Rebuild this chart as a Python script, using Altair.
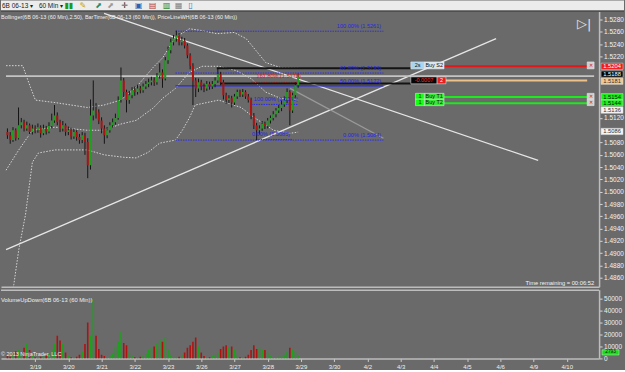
import altair as alt
import pandas as pd

BG = "#6a6a6a"
FONT = "Liberation Sans"

# ---------------- data ----------------
first_open = 1.5097
closes = [1.5092,1.5084,1.5100,1.5087,1.5108,1.5113,1.5103,1.5108,1.5097,1.5103,
1.5100,1.5105,1.5095,1.5103,1.5098,1.5107,1.5116,1.5124,1.5113,1.5103,
1.5108,1.5097,1.5100,1.5090,1.5097,1.5089,1.5084,1.5092,1.5081,1.5043,
1.5124,1.5132,1.5129,1.5116,1.5103,1.5092,1.5100,1.5108,1.5113,1.5120,
1.5149,1.5181,1.5162,1.5149,1.5157,1.5165,1.5162,1.5168,1.5165,1.5171,
1.5175,1.5178,1.5181,1.5178,1.5188,1.5194,1.5184,1.5214,1.5230,1.5243,
1.5249,1.5254,1.5243,1.5246,1.5238,1.5222,1.5205,1.5181,1.5168,1.5178,
1.5171,1.5168,1.5175,1.5171,1.5175,1.5181,1.5191,1.5178,1.5157,1.5149,
1.5152,1.5145,1.5155,1.5162,1.5158,1.5162,1.5155,1.5149,1.5124,1.5108,
1.5100,1.5103,1.5110,1.5107,1.5116,1.5120,1.5126,1.5132,1.5136,1.5142,
1.5149,1.5162,1.5132,1.5157,1.5173,1.5188]
highs = [1.5103,1.5097,1.5105,1.5103,1.5137,1.5120,1.5117,1.5114,1.5111,1.5109,
1.5108,1.5111,1.5108,1.5109,1.5107,1.5113,1.5127,1.5141,1.5129,1.5117,
1.5115,1.5111,1.5106,1.5104,1.5102,1.5100,1.5094,1.5097,1.5096,1.5087,
1.5150,1.5181,1.5144,1.5134,1.5121,1.5108,1.5105,1.5113,1.5119,1.5127,
1.5155,1.5202,1.5185,1.5166,1.5164,1.5170,1.5171,1.5174,1.5172,1.5176,
1.5180,1.5184,1.5187,1.5186,1.5193,1.5209,1.5199,1.5219,1.5236,1.5249,
1.5255,1.5262,1.5258,1.5252,1.5250,1.5241,1.5225,1.5209,1.5185,1.5184,
1.5182,1.5176,1.5180,1.5179,1.5180,1.5186,1.5201,1.5195,1.5182,1.5161,
1.5157,1.5156,1.5159,1.5166,1.5166,1.5167,1.5165,1.5159,1.5153,1.5128,
1.5112,1.5108,1.5115,1.5114,1.5120,1.5124,1.5131,1.5136,1.5141,1.5148,
1.5155,1.5168,1.5165,1.5161,1.5178,1.5192]
lows = [1.5086,1.5078,1.5081,1.5083,1.5085,1.5103,1.5098,1.5099,1.5093,1.5093,
1.5095,1.5096,1.5088,1.5092,1.5093,1.5095,1.5103,1.5112,1.5108,1.5097,
1.5098,1.5091,1.5092,1.5085,1.5086,1.5083,1.5078,1.5079,1.5060,1.5022,
1.5036,1.5116,1.5119,1.5110,1.5095,1.5078,1.5087,1.5096,1.5104,1.5109,
1.5117,1.5145,1.5154,1.5129,1.5143,1.5152,1.5156,1.5158,1.5160,1.5161,
1.5167,1.5170,1.5173,1.5172,1.5174,1.5184,1.5169,1.5181,1.5208,1.5225,
1.5238,1.5244,1.5238,1.5238,1.5233,1.5217,1.5199,1.5141,1.5154,1.5162,
1.5165,1.5162,1.5164,1.5166,1.5167,1.5170,1.5177,1.5173,1.5150,1.5143,
1.5144,1.5137,1.5141,1.5151,1.5154,1.5154,1.5151,1.5145,1.5118,1.5102,
1.5084,1.5093,1.5099,1.5102,1.5103,1.5111,1.5116,1.5121,1.5128,1.5131,
1.5138,1.5144,1.5108,1.5128,1.5153,1.5169]
volumes = [2000,1500,3000,6000,8000,4000,9000,12000,7000,2000,
1000,1000,1500,2000,3000,4000,8000,12000,19000,15000,
12000,5000,2000,1000,1000,1500,3000,6000,12000,30000,
19000,50000,19000,8000,3000,2000,1000,2000,4000,10000,
14000,22000,13000,11000,5000,2000,1000,1000,1500,2000,
4000,7000,9000,10000,12000,16000,14000,18000,8000,3000,
1500,1000,1500,3000,5000,9000,11000,14000,17500,10000,
5000,2000,1000,1000,2000,3000,5000,8000,10000,11000,
9000,10000,7000,3000,1000,1000,1500,3000,7000,11000,
8000,9000,8000,7000,5000,2000,1000,1000,1500,2000,
3000,6000,9000,8000,6000,2793]

# Bollinger bands (bar index, price)
upper_i = [-0.5,5.5,8.3,10.1,17.2,28.8,34.9,40.9,46.5,52.6,56.1,60.7,65.7,70.3,75.6,81.9,86.2,89.7,93.3,98.6,105]
upper_p = [1.5205,1.5205,1.5170,1.5149,1.5145,1.5137,1.5141,1.5149,1.5170,1.5202,1.5218,1.5251,1.5265,1.5262,1.5257,1.5259,1.5249,1.5230,1.5210,1.5202,1.5201]
mid_i = [-0.5,4.1,9.0,17.2,28.8,34.9,40.9,46.5,52.6,56.1,60.7,65.7,70.3,76.3,82.7,88.0,93.3,98.6,105]
mid_p = [1.5035,1.5068,1.5100,1.5105,1.5100,1.5100,1.5110,1.5116,1.5136,1.5152,1.5168,1.5194,1.5204,1.5204,1.5197,1.5184,1.5162,1.5152,1.5149]
lower_i = [1.2,2.3,4.1,6.5,9.0,11.2,17.2,28.8,34.9,42.0,46.5,50.8,55.0,60.7,63.2,65.7,67.8,76.3,84.4,89.0,96.1,102.1,105]
lower_p = [1.4824,1.4849,1.4906,1.4962,1.5048,1.5063,1.5068,1.5068,1.5060,1.5056,1.5055,1.5064,1.5079,1.5084,1.5100,1.5120,1.5141,1.5149,1.5137,1.5121,1.5100,1.5095,1.5097]

# drawn trend lines
trend_i1 = [34.9, -0.5, 102.1]
trend_p1 = [1.5290, 1.4906, 1.5168]
trend_i2 = [191.7, 176.5, 135.8]
trend_p2 = [1.5051, 1.5249, 1.5087]
trend_col = ["#e6e6e6", "#e6e6e6", "#9a9a9a"]

# fibonacci levels
fib_levels = [1.5261, 1.5193, 1.5172, 1.5084]
fib_text = ["100.00% (1.5261)", "61.80% (1.5193)", "50.00% (1.5172)", "0.00% (1.5084)"]
small_fib_levels = [1.5142, 1.5085]
small_fib_text = ["100.00% (1.5142)", "0.00% (1.5085)"]
ext_level = 1.5178
ext_text = "161.80% (1.5178)"

day_labels = ["3/19","3/20","3/21","3/22","3/23","3/26","3/27","3/28","3/29",
              "3/30","4/2","4/3","4/4","4/5","4/6","4/9","4/10"]
day_pos = [10,22,34,46,58,70,82,94,106,118,130,142,154,166,178,190,202]

price_ticks = [1.528,1.526,1.524,1.522,1.512,1.508,1.506,1.504,1.502,1.500,
               1.498,1.496,1.494,1.492,1.490,1.488,1.486]
vol_ticks = [0,10000,20000,30000,40000,50000]

last_price = 1.5188
position_price = 1.5181
stop_price = 1.5204
target_prices = [1.5154, 1.5144]

# ---------------- frames ----------------
opens = [first_open] + closes[:-1]
bars = pd.DataFrame({
    "i": list(range(len(closes))), "open": opens, "close": closes,
    "high": highs, "low": lows, "vol": volumes,
})
bars["dir"] = ["up" if c >= o else "down" for o, c in zip(opens, closes)]

XS = alt.Scale(domain=[-0.53, 211.9], nice=False, zero=False)
YS = alt.Scale(domain=[1.48456, 1.52930], nice=False, zero=False)
VS = alt.Scale(domain=[0, 57500], nice=False, zero=False)

XAX = alt.Axis(labels=False, ticks=False, domain=True, domainColor="#bdbdbd",
               domainWidth=1.5, grid=False, title=None)
YAX = alt.Axis(orient="right", values=price_ticks, format=".4f", grid=False, title=None,
               labelFont=FONT, labelFontSize=6.5, labelColor="#f2f2f2", tickColor="#d8d8d8",
               tickSize=3, domainColor="#bdbdbd", domainWidth=1.5, labelPadding=1.5,
               labelOverlap=False)

def XQ(f):
    return alt.X(f, type="quantitative", scale=XS, axis=XAX)

def YQ(f):
    return alt.Y(f, type="quantitative", scale=YS, axis=YAX)

one = pd.DataFrame({"a": [0]})

# ---- bands ----
band_df = pd.concat([
    pd.DataFrame({"i": upper_i, "p": upper_p, "b": "u"}),
    pd.DataFrame({"i": mid_i, "p": mid_p, "b": "m"}),
    pd.DataFrame({"i": lower_i, "p": lower_p, "b": "l"}),
])
bands = alt.Chart(band_df).mark_line(color="#d6d6d6", strokeWidth=1, strokeDash=[1.5, 1.5],
                                     clip=True).encode(
    x=XQ("i"), y=YQ("p"), detail="b:N")

trend_df = pd.DataFrame({"i1": trend_i1, "p1": trend_p1, "i2": trend_i2, "p2": trend_p2,
                         "c": trend_col})
trends = alt.Chart(trend_df).mark_rule(strokeWidth=1.3, clip=True).encode(
    x=XQ("i1"), y=YQ("p1"), x2="i2", y2="p2", color=alt.Color("c:N", scale=None))

# ---- horizontal lines ----
dotted_df = pd.DataFrame({
    "i1": [60.7, 60.7, 60.7, 88.0, 89.7, 88.0],
    "i2": [135.8, 135.8, 135.8, 105.0, 102.8, 105.0],
    "p": [fib_levels[0], fib_levels[1], fib_levels[3], small_fib_levels[0], small_fib_levels[1], ext_level],
    "c": ["#2c2cf0", "#2c2cf0", "#2c2cf0", "#2c2cf0", "#2c2cf0", "#d82020"],
})
dotted = alt.Chart(dotted_df).mark_rule(strokeWidth=1, strokeDash=[1.5, 1], clip=True).encode(
    x=XQ("i1"), x2="i2", y=YQ("p"), color=alt.Color("c:N", scale=None))

solid_df = pd.DataFrame({
    "i1": [60.7, -0.53, 75.6, 77.0, 157.7, 158.4, 157.7, 157.7],
    "i2": [135.8, 211.9, 145.7, 145.7, 209.4, 209.4, 209.4, 209.4],
    "p": [fib_levels[2], last_price, 1.5201, 1.5176, stop_price, position_price,
          target_prices[0], target_prices[1]],
    "c": ["#2a2ae8", "#c4c4c4", "#141414", "#141414", "#e01818", "#eec08a", "#1ee81e", "#1ee81e"],
    "w": [1.2, 2, 2, 2, 2, 2, 2, 2],
})
solid = alt.Chart(solid_df).mark_rule(clip=True).encode(
    x=XQ("i1"), x2="i2", y=YQ("p"), color=alt.Color("c:N", scale=None),
    strokeWidth=alt.StrokeWidth("w:Q", scale=None))

# ---- candles ----
wicks = alt.Chart(bars).mark_rule(color="#151515", strokeWidth=1, clip=True).encode(
    x=XQ("i"), y=YQ("low"), y2="high")
bodies = alt.Chart(bars).mark_bar(size=2, clip=True).encode(
    x=XQ("i"), y=YQ("open"), y2="close",
    color=alt.Color("dir:N", scale=alt.Scale(domain=["up", "down"], range=["#1f9f1f", "#b01212"]),
                    legend=None))

# ---- fib labels ----
fib_lab_df = pd.DataFrame({
    "i": [135.0, 135.0, 135.0, 135.0, 105.0, 102.1, 106.0],
    "p": [fib_levels[0] + 0.0003, fib_levels[1] + 0.0003, fib_levels[2] + 0.0003,
          fib_levels[3] + 0.0003, small_fib_levels[0] + 0.0004, small_fib_levels[1] + 0.0004,
          ext_level + 0.0006],
    "t": fib_text + small_fib_text + [ext_text],
    "c": ["#2626e6"] * 6 + ["#e02020"],
})
fib_labels = alt.Chart(fib_lab_df).mark_text(align="right", baseline="bottom", font=FONT,
                                             fontSize=5.6).encode(
    x=XQ("i"), y=YQ("p"), text="t:N", color=alt.Color("c:N", scale=None))

# ---- order boxes on chart ----
box_df = pd.DataFrame({
    "i1": [145.7, 150.6, 145.7, 155.2, 147.4, 150.6, 147.4, 150.6, 209.4, 209.4, 209.4],
    "i2": [150.6, 157.7, 155.2, 158.4, 150.6, 157.7, 150.6, 157.7, 211.9, 211.9, 211.9],
    "p1": [1.52111, 1.52111, 1.51868, 1.51868, 1.51600, 1.51600, 1.51503, 1.51503,
           1.52111, 1.51600, 1.51503],
    "p2": [1.51998, 1.51998, 1.51755, 1.51755, 1.51503, 1.51503, 1.51400, 1.51400,
           1.51998, 1.51503, 1.51400],
    "f": ["#a8d4f0", "#d9e6ee", "#050505", "#e42020", "#14ff14", "#3ae83a", "#14ff14", "#3ae83a",
          "#cfcfcf", "#cfcfcf", "#cfcfcf"],
    "t": ["2s", "Buy S2", "-0.0007", "2", "1", "Buy T1", "1", "Buy T2", "✕", "✕", "✕"],
    "tc": ["#101010", "#101010", "#ff3030", "#ffffff", "#101010", "#101010", "#101010", "#101010",
           "#e01010", "#e01010", "#e01010"],
})
box_df["im"] = (box_df["i1"] + box_df["i2"]) / 2
box_df["pm"] = (box_df["p1"] + box_df["p2"]) / 2
boxes = alt.Chart(box_df).mark_rect(stroke="#f0f0f0", strokeWidth=0.5).encode(
    x=XQ("i1"), x2="i2", y=YQ("p1"), y2="p2", fill=alt.Fill("f:N", scale=None))
box_text = alt.Chart(box_df).mark_text(font=FONT, fontSize=5.5, baseline="middle").encode(
    x=XQ("im"), y=YQ("pm"), text="t:N", color=alt.Color("tc:N", scale=None))

# ---- price markers on the axis (label centre, shown text) ----
mark_df = pd.DataFrame({
    "p": [1.51327, 1.5098, stop_price, 1.51913, 1.51797, 1.51545, 1.51441],
    "t": ["1.5136", "1.5086", "1.5204", "1.5188", "1.5181", "1.5154", "1.5144"],
    "f": ["#f4f4f4", "#f4f4f4", "#f01c1c", "#050505", "#f2c890", "#18f018", "#18f018"],
    "tc": ["#303030", "#303030", "#ffffff", "#ffffff", "#303030", "#101010", "#101010"],
})
mark_df["p1"] = mark_df["p"] - 0.00051
mark_df["p2"] = mark_df["p"] + 0.00051
markers = alt.Chart(mark_df).mark_rect(stroke="#dddddd", strokeWidth=0.5).encode(
    x=alt.value(602), x2=alt.value(624), y=YQ("p1"), y2="p2", fill=alt.Fill("f:N", scale=None))
marker_text = alt.Chart(mark_df).mark_text(font=FONT, fontSize=5.8, baseline="middle").encode(
    x=alt.value(613), y=YQ("p"), text="t:N", color=alt.Color("tc:N", scale=None))

# ---- UI texts ----
toolbar = alt.Chart(one).mark_rect(fill="#ececec").encode(
    x=alt.value(0), x2=alt.value(625), y=alt.value(-11), y2=alt.value(-1))
toolbar_line = alt.Chart(one).mark_rule(color="#3a3a3a", strokeWidth=1).encode(
    x=alt.value(0), x2=alt.value(625), y=alt.value(-0.5))
toolbar_text = alt.Chart(pd.DataFrame({"x": [1, 38], "t": ["6B 06-13  ▾", "60 Min  ▾"]})).mark_text(
    align="left", baseline="middle", font=FONT, fontSize=6.5, color="#202020").encode(
    x=alt.X("x:Q", scale=None), y=alt.value(-5.5), text="t:N")
toolbar_icons = alt.Chart(pd.DataFrame({"x": [68, 82, 98, 110, 124, 138, 152, 166, 178, 190],
                                        "t": ["▮▮", "✎", "⬈", "⬈", "✛", "▣", "▤", "▥", "▦", "▯"],
                                        "c": ["#1a9a1a", "#c8a000", "#2a8a6a", "#9a9a9a", "#303030",
                                              "#3060b0", "#b03030", "#208020", "#808080", "#3070c0"]})
                          ).mark_text(baseline="middle", font="DejaVu Sans", fontSize=8).encode(
    x=alt.X("x:Q", scale=None), y=alt.value(-5.5), text="t:N", color=alt.Color("c:N", scale=None))

title_txt = alt.Chart(one).mark_text(
    align="left", baseline="middle", font=FONT, fontSize=5.5, color="#f0f0f0",
    text="Bollinger(6B 06-13 (60 Min),2.50), BarTimer(6B 06-13 (60 Min)), PriceLineWH(6B 06-13 (60 Min))"
).encode(x=alt.value(0), y=alt.value(5))
timer_txt = alt.Chart(one).mark_text(
    align="right", baseline="middle", font=FONT, fontSize=5.8, color="#f4f4f4",
    text="Time remaining = 00:06:52").encode(x=alt.value(595), y=alt.value(272))
play_txt = alt.Chart(one).mark_text(
    align="center", baseline="middle", font="DejaVu Sans", fontSize=13, color="#e4e4e4",
    text="▷|").encode(x=alt.value(585), y=alt.value(12))

main = alt.layer(
    bands, trends, dotted, solid, wicks, bodies, fib_labels, boxes, box_text,
    markers, marker_text, toolbar, toolbar_line, toolbar_text, toolbar_icons,
    title_txt, timer_txt, play_txt,
).properties(width=600, height=276)

# ---------------- volume panel ----------------
VXAX = alt.Axis(values=day_pos, labelExpr="[" + ",".join("'%s'" % d for d in day_labels) +
                "][round((datum.value-10)/12)]",
                grid=False, title=None, labelFont=FONT, labelFontSize=6, labelColor="#f0f0f0",
                tickColor="#cfcfcf", tickSize=3, domainColor="#bdbdbd", domainWidth=1.5,
                labelPadding=2)
VYAX = alt.Axis(orient="right", values=vol_ticks, format="d", grid=False, title=None,
                labelFont=FONT, labelFontSize=6.5, labelColor="#f0f0f0", tickColor="#d8d8d8",
                tickSize=3, domainColor="#bdbdbd", domainWidth=1.5, labelPadding=1.5,
                labelOverlap=False)

vbars = alt.Chart(bars).mark_bar(size=1.6, clip=True).encode(
    x=alt.X("i:Q", scale=XS, axis=VXAX),
    y=alt.Y("vol:Q", scale=VS, axis=VYAX),
    color=alt.Color("dir:N", scale=alt.Scale(domain=["up", "down"], range=["#38d838", "#8c0c0c"]),
                    legend=None))
vtop = alt.Chart(one).mark_rule(color="#bdbdbd", strokeWidth=1.5).encode(
    x=alt.value(0), x2=alt.value(600), y=alt.value(0.5))
vtitle = alt.Chart(one).mark_text(
    align="left", baseline="middle", font=FONT, fontSize=5.8, color="#f0f0f0",
    text="VolumeUpDown(6B 06-13 (60 Min))").encode(x=alt.value(0), y=alt.value(10))
copy_txt = alt.Chart(one).mark_text(
    align="left", baseline="middle", font=FONT, fontSize=5.5, color="#f0f0f0",
    text="© 2013 NinjaTrader, LLC").encode(x=alt.value(0), y=alt.value(65))
vlabel_df = pd.DataFrame({"v": [2793], "v1": [2900], "v2": [7200], "vm": [5000], "t": ["2793"]})
vlabel = alt.Chart(vlabel_df).mark_rect(fill="#18e018", stroke="#e0e0e0", strokeWidth=0.5).encode(
    x=alt.value(603), x2=alt.value(620), y=alt.Y("v1:Q", scale=VS, axis=VYAX), y2="v2")
vlabel_t = alt.Chart(vlabel_df).mark_text(font=FONT, fontSize=4.8, baseline="middle",
                                          color="#101010").encode(
    x=alt.value(611.5), y=alt.Y("vm:Q", scale=VS, axis=VYAX), text="t:N")

volume = alt.layer(vbars, vtop, vtitle, copy_txt, vlabel, vlabel_t).properties(width=600, height=69)

chart = alt.vconcat(main, volume, spacing=2).properties(
    padding={"left": 0, "top": 0, "right": 0, "bottom": 0},
    background=BG,
).configure_view(stroke=None)

chart.save("out.html", embed_options={"renderer": "svg", "actions": False})
